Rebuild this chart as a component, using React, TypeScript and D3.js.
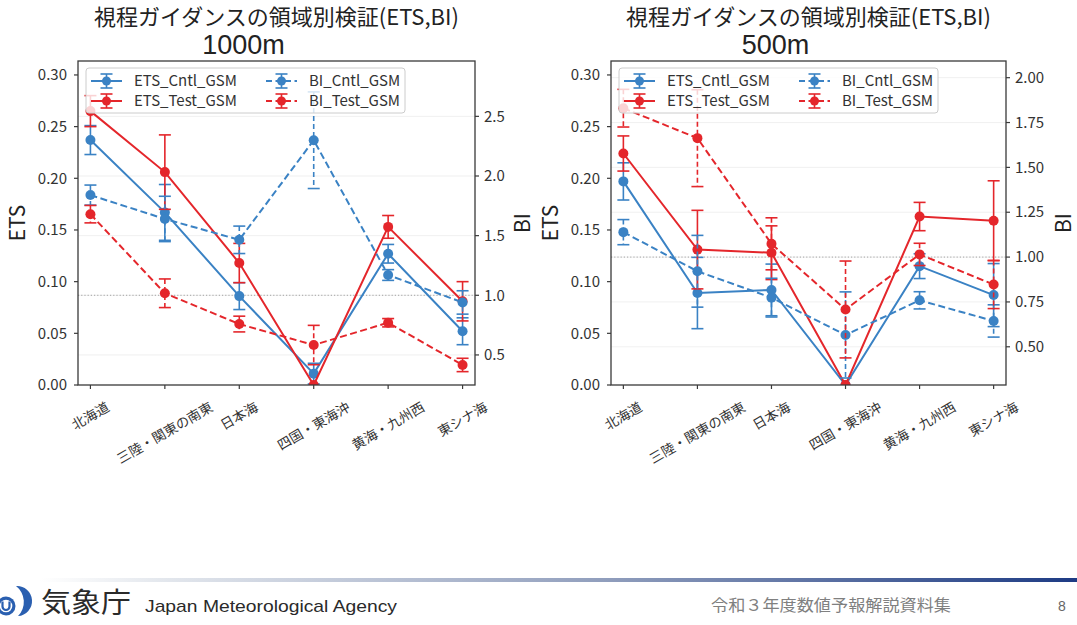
import React from 'react';
import * as d3 from 'd3';

// Regions on the x axis
const regions = ['北海道', '三陸・関東の南東', '日本海', '四国・東海沖', '黄海・九州西', '東シナ海'];

// 1000m visibility threshold
const etsCntl1000 = [0.237, 0.167, 0.086, 0.011, 0.127, 0.052];
const etsCntlErr1000 = [0.014, 0.027, 0.013, 0.010, 0.009, 0.013];
const etsTest1000 = [0.265, 0.206, 0.118, 0.0, 0.153, 0.081];
const etsTestErr1000 = [0.015, 0.036, 0.019, 0.0, 0.011, 0.019];
const biCntl1000 = [1.84, 1.64, 1.465, 2.3, 1.17, 0.94];
const biCntlErr1000 = [0.084, 0.19, 0.115, 0.405, 0.045, 0.098];
const biTest1000 = [1.68, 1.017, 0.759, 0.583, 0.77, 0.416];
const biTestErr1000 = [0.073, 0.12, 0.066, 0.165, 0.035, 0.056];

// 500m visibility threshold
const etsCntl500 = [0.197, 0.089, 0.092, 0.0, 0.115, 0.087];
const etsCntlErr500 = [0.018, 0.0345, 0.025, 0.0, 0.012, 0.0305];
const etsTest500 = [0.224, 0.131, 0.128, 0.0, 0.163, 0.159];
const etsTestErr500 = [0.017, 0.038, 0.026, 0.0, 0.0137, 0.0386];
const biCntl500 = [1.139, 0.921, 0.774, 0.566, 0.759, 0.644];
const biCntlErr500 = [0.07, 0.2, 0.108, 0.24, 0.048, 0.09];
const biTest500 = [1.83, 1.663, 1.074, 0.708, 1.015, 0.847];
const biTestErr500 = [0.105, 0.27, 0.145, 0.27, 0.062, 0.134];

// Axis ticks
const etsTicks = [0, 0.05, 0.1, 0.15, 0.2, 0.25, 0.3];
const biTicks1000 = [0.5, 1.0, 1.5, 2.0, 2.5];
const biTicks500 = [0.5, 0.75, 1.0, 1.25, 1.5, 1.75, 2.0];

const titleText = '視程ガイダンスの領域別検証(ETS,BI)';
const BLUE = '#3a82c4';
const RED = '#e4262b';
const FONT = '"Noto Sans CJK JP", "Noto Sans", sans-serif';
const LATIN = '"Liberation Sans", Arial, sans-serif';

type Series = {
  name: string;
  values: number[];
  errors: number[];
  color: string;
  dashed: boolean;
  bi: boolean;
};

type PanelProps = {
  x0: number;
  x1: number;
  sub: string;
  series: Series[];
  biDomain: [number, number];
  biTicks: number[];
  biDigits: number;
  clipId: string;
};

const Y0 = 61;
const Y1 = 385;
const DASH = '7,3.5';

function Panel({ x0, x1, sub, series, biDomain, biTicks, biDigits, clipId }: PanelProps) {
  const x = d3.scalePoint<string>().domain(regions).range([x0, x1]).padding(0.167);
  const yE = d3.scaleLinear().domain([0, 0.3135]).range([Y1, Y0]);
  const yB = d3.scaleLinear().domain(biDomain).range([Y1, Y0]);
  const cx = (x0 + x1) / 2;

  const renderSeries = (s: Series) => {
    const y = s.bi ? yB : yE;
    const line = d3
      .line<number>()
      .x((_, i) => x(regions[i]) as number)
      .y((v) => y(v));
    return (
      <g key={s.name}>
        <path
          d={line(s.values) || ''}
          fill="none"
          stroke={s.color}
          strokeWidth={2}
          strokeDasharray={s.dashed ? DASH : undefined}
        />
        {s.values.map((v, i) => {
          const e = s.errors[i];
          const px = x(regions[i]) as number;
          if (e <= 0) return null;
          const top = y(v + e);
          const bot = y(v - e);
          return (
            <g key={i} stroke={s.color} strokeWidth={1.6}>
              <line x1={px} x2={px} y1={top} y2={bot} strokeDasharray={s.dashed ? '5,3' : undefined} />
              <line x1={px - 6} x2={px + 6} y1={top} y2={top} />
              <line x1={px - 6} x2={px + 6} y1={bot} y2={bot} />
            </g>
          );
        })}
        {s.values.map((v, i) => (
          <circle key={'m' + i} cx={x(regions[i]) as number} cy={y(v)} r={5} fill={s.color} />
        ))}
      </g>
    );
  };

  const etsSeries = series.filter((s) => !s.bi);
  const biSeries = series.filter((s) => s.bi);

  // legend layout: column-first (ETS entries on the left, BI entries on the right)
  const lgX = x0 + 8;
  const lgY = 68;
  const rows = [81, 101];
  const cols = [lgX + 5, lgX + 180];

  return (
    <g fontFamily={FONT}>
      <defs>
        <clipPath id={clipId}>
          <rect x={x0} y={Y0} width={x1 - x0} height={Y1 - Y0} />
        </clipPath>
      </defs>
      <text x={cx} y={25} textAnchor="middle" fontSize={22} fill="#222">
        {titleText}
      </text>
      <text x={cx - 33} y={54} textAnchor="middle" fontSize={27} fontFamily={LATIN} fill="#222">
        {sub}
      </text>

      <g clipPath={`url(#${clipId})`}>
        {biTicks.map((t) => (
          <line key={t} x1={x0} x2={x1} y1={yB(t)} y2={yB(t)} stroke="#ececec" strokeWidth={0.8} />
        ))}
        <line x1={x0} x2={x1} y1={yB(1)} y2={yB(1)} stroke="#9a9a9a" strokeWidth={0.9} strokeDasharray="1.2,2" />
        {etsSeries.map(renderSeries)}
        {biSeries.map(renderSeries)}
      </g>

      {/* frame */}
      <rect x={x0} y={Y0} width={x1 - x0} height={Y1 - Y0} fill="none" stroke="#3a3a3a" strokeWidth={1.3} />

      {/* left ETS axis */}
      {etsTicks.map((t) => (
        <g key={'e' + t}>
          <line x1={x0 - 4} x2={x0} y1={yE(t)} y2={yE(t)} stroke="#3a3a3a" strokeWidth={1.2} />
          <text x={x0 - 11} y={yE(t)} dy="0.35em" textAnchor="end" fontSize={15} fill="#333">
            {t.toFixed(2)}
          </text>
        </g>
      ))}
      <text
        transform={`translate(${x0 - 60},${(Y0 + Y1) / 2}) rotate(-90)`}
        textAnchor="middle"
        dy="0.35em"
        fontSize={21}
        fill="#222"
      >
        ETS
      </text>

      {/* right BI axis */}
      {biTicks.map((t) => (
        <g key={'b' + t}>
          <line x1={x1} x2={x1 + 4} y1={yB(t)} y2={yB(t)} stroke="#3a3a3a" strokeWidth={1.2} />
          <text x={x1 + 9} y={yB(t)} dy="0.35em" textAnchor="start" fontSize={15} fill="#333">
            {t.toFixed(biDigits)}
          </text>
        </g>
      ))}
      <text
        transform={`translate(${x1 + 48 + (biDigits === 2 ? 10 : 0)},${(Y0 + Y1) / 2}) rotate(-90)`}
        textAnchor="middle"
        dy="0.35em"
        fontSize={21}
        fill="#222"
      >
        BI
      </text>

      {/* bottom category axis */}
      {regions.map((r) => {
        const px = x(r) as number;
        const fs = 13.5;
        const w = r.length * fs;
        const bh = w * 0.5 + fs * 0.866;
        const cy = 400 + bh / 2;
        return (
          <g key={r}>
            <line x1={px} x2={px} y1={Y1} y2={Y1 + 4} stroke="#3a3a3a" strokeWidth={1.2} />
            <text
              transform={`translate(${px},${cy}) rotate(-30)`}
              textAnchor="middle"
              dy="0.35em"
              fontSize={fs}
              fill="#333"
            >
              {r}
            </text>
          </g>
        );
      })}

      {/* legend */}
      <rect x={lgX} y={lgY} width={319} height={45} rx={3} fill="white" fillOpacity={0.8} stroke="#cccccc" strokeWidth={1} />
      {series.map((s, k) => {
        const col = Math.floor(k / 2);
        const row = k % 2;
        const hx0 = cols[col];
        const hx1 = hx0 + 31;
        const hm = (hx0 + hx1) / 2;
        const ry = rows[row];
        return (
          <g key={'lg' + s.name}>
            <line x1={hx0} x2={hx1} y1={ry} y2={ry} stroke={s.color} strokeWidth={2} strokeDasharray={s.dashed ? '6,3.5' : undefined} />
            <g stroke={s.color} strokeWidth={1.6}>
              <line x1={hm} x2={hm} y1={ry - 7} y2={ry + 7} />
              <line x1={hm - 6} x2={hm + 6} y1={ry - 7} y2={ry - 7} />
              <line x1={hm - 6} x2={hm + 6} y1={ry + 7} y2={ry + 7} />
            </g>
            <circle cx={hm} cy={ry} r={4.5} fill={s.color} />
            <text x={hx0 + 43} y={ry} dy="0.35em" fontSize={15} fill="#333">
              {s.name}
            </text>
          </g>
        );
      })}
    </g>
  );
}

function makeSeries(
  ec: number[], ece: number[], et: number[], ete: number[],
  bc: number[], bce: number[], bt: number[], bte: number[]
): Series[] {
  return [
    { name: 'ETS_Cntl_GSM', values: ec, errors: ece, color: BLUE, dashed: false, bi: false },
    { name: 'ETS_Test_GSM', values: et, errors: ete, color: RED, dashed: false, bi: false },
    { name: 'BI_Cntl_GSM', values: bc, errors: bce, color: BLUE, dashed: true, bi: true },
    { name: 'BI_Test_GSM', values: bt, errors: bte, color: RED, dashed: true, bi: true },
  ];
}

function Footer() {
  return (
    <g>
      <defs>
        <linearGradient id="footGrad" x1="0" x2="1" y1="0" y2="0">
          <stop offset="0%" stopColor="#ffffff" />
          <stop offset="12%" stopColor="#e3e7ed" />
          <stop offset="55%" stopColor="#8f9dbc" />
          <stop offset="100%" stopColor="#1d3b84" />
        </linearGradient>
      </defs>
      <rect x={40} y={578} width={1037} height={4} fill="url(#footGrad)" />
      {/* agency mark */}
      <circle cx={6} cy={606} r={9.5} fill="#2a5fb0" />
      <circle cx={6} cy={606} r={6.3} fill="white" />
      <path d="M2.5 601.5 L2.5 606.5 A3.5 3.5 0 0 0 9.5 606.5 L9.5 601.5" fill="none" stroke="#2a5fb0" strokeWidth={2.2} />
      <path d="M16 586 A15 15 0 0 1 18 616 A20 20 0 0 0 16 586 Z" fill="#2a5fb0" />
      <text x={41} y={613} fontSize={28} fontFamily={FONT} fill="#2a2a2a" textLength={90} lengthAdjust="spacingAndGlyphs">
        気象庁
      </text>
      <text x={145} y={612} fontSize={17} fontFamily={LATIN} fill="#2a2a2a" textLength={252} lengthAdjust="spacingAndGlyphs">
        Japan Meteorological Agency
      </text>
      <text x={711} y={611} fontSize={16} fontFamily={FONT} fill="#808080" textLength={240} lengthAdjust="spacingAndGlyphs">
        令和３年度数値予報解説資料集
      </text>
      <text x={1058} y={611} fontSize={14} fontFamily={LATIN} fill="#666">8</text>
    </g>
  );
}

export default function App() {
  const s1000 = makeSeries(
    etsCntl1000, etsCntlErr1000, etsTest1000, etsTestErr1000,
    biCntl1000, biCntlErr1000, biTest1000, biTestErr1000
  );
  const s500 = makeSeries(
    etsCntl500, etsCntlErr500, etsTest500, etsTestErr500,
    biCntl500, biCntlErr500, biTest500, biTestErr500
  );
  return (
    <div style={{ position: 'absolute', left: 0, top: 0 }}>
      <svg width={1077} height={625} style={{ display: 'block', background: 'white' }}>
        <Panel x0={78} x1={475} sub="1000m" series={s1000} biDomain={[0.248, 2.964]} biTicks={biTicks1000} biDigits={1} clipId="clip1000" />
        <Panel x0={611} x1={1006} sub="500m" series={s500} biDomain={[0.287, 2.093]} biTicks={biTicks500} biDigits={2} clipId="clip500" />
        <Footer />
      </svg>
    </div>
  );
}
